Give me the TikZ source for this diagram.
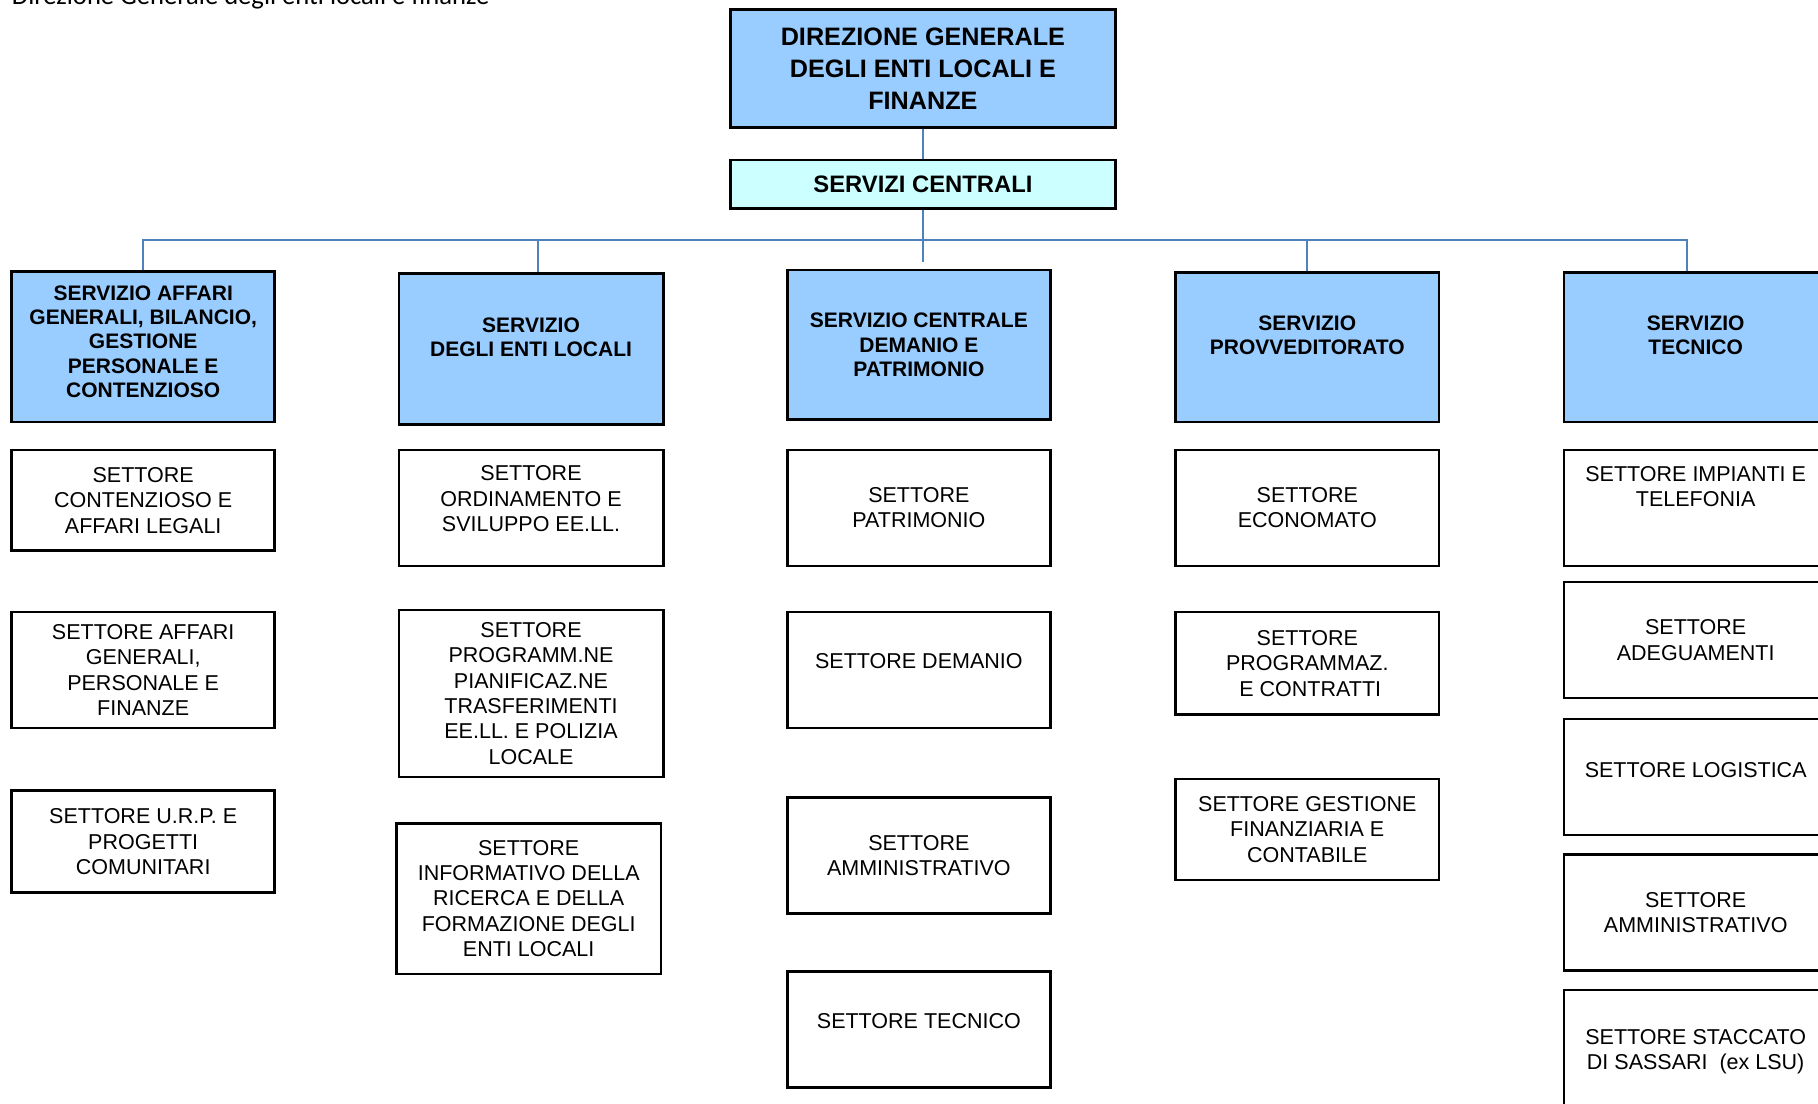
\documentclass[tikz,border=0pt]{standalone}
\usepackage{fontspec}
\setmainfont{Liberation Sans}
\newfontfamily\calibri{Carlito}
\usepackage{tikz}

\definecolor{linkblue}{HTML}{4F81BD}
\definecolor{servfill}{HTML}{99CCFF}
\definecolor{centfill}{HTML}{CCFFFF}

\tikzset{
  boxsize/.style 2 args={minimum width=#1*0.5797pt, minimum height=#2*0.5797pt},
  box/.style={draw=black, line width=1.3pt, align=center, inner sep=2pt},
  direzione/.style={box, fill=servfill, font=\fontsize{12.6}{16}\selectfont\bfseries},
  centrali/.style={box, fill=centfill, font=\fontsize{11.9}{14}\selectfont\bfseries},
  servizio/.style={box, fill=servfill, font=\fontsize{10.5}{12.1}\selectfont\bfseries},
  settore/.style={box, fill=white, font=\fontsize{10.75}{12.7}\selectfont},
  link/.style={draw=linkblue, line width=1.2pt}
}

\begin{document}
\begin{tikzpicture}[x=0.5797pt, y=-0.5797pt]
      \useasboundingbox (0,0) rectangle (1568,952);
      \clip (0,0) rectangle (1568,952);
      \node [anchor=base west, inner sep=0pt, font=\calibri\fontsize{13.3}{16}\selectfont] (title) at (10,4) {Direzione Generale degli enti locali e finanze};

      \node [direzione, boxsize={332}{102}] (0 0) at (796,59) {DIREZIONE GENERALE\\DEGLI ENTI LOCALI E\\FINANZE};
      \node [centrali, boxsize={332}{42}] (0 1) at (796,159) {SERVIZI CENTRALI};

      \node [servizio, boxsize={227}{130}] (1 0) at (123.5,299) {SERVIZIO AFFARI\\GENERALI, BILANCIO,\\GESTIONE\\PERSONALE E\\CONTENZIOSO\\[-6.9pt]\mbox{}};
      \node [servizio, boxsize={228}{130}] (2 0) at (458,301) {SERVIZIO\\DEGLI ENTI LOCALI\\\mbox{}};
      \node [servizio, boxsize={227}{129}] (3 0) at (792.5,297.5) {SERVIZIO CENTRALE\\DEMANIO E\\PATRIMONIO};
      \node [servizio, boxsize={227}{129}] (4 0) at (1127.5,299.5) {SERVIZIO\\PROVVEDITORATO\\\mbox{}};
      \node [servizio, boxsize={227}{129}] (5 0) at (1462.5,299.5) {SERVIZIO\\TECNICO\\\mbox{}};

      \node [settore, boxsize={227}{87}] (1 1) at (123.5,431.5) {SETTORE\\CONTENZIOSO E\\AFFARI LEGALI};
      \node [settore, boxsize={227}{100}] (1 2) at (123.5,578) {SETTORE AFFARI\\GENERALI,\\PERSONALE E\\FINANZE};
      \node [settore, boxsize={227}{88}] (1 3) at (123.5,726) {SETTORE U.R.P. E\\PROGETTI\\COMUNITARI};

      \node [settore, boxsize={228}{100}] (2 1) at (458,438) {SETTORE\\ORDINAMENTO E\\SVILUPPO EE.LL.\\[-3.4pt]\mbox{}};
      \node [settore, boxsize={228}{144}] (2 2) at (458,598) {SETTORE\\PROGRAMM.NE\\PIANIFICAZ.NE\\TRASFERIMENTI\\EE.LL. E POLIZIA\\LOCALE};
      \node [settore, boxsize={228}{130}] (2 3) at (456,775) {SETTORE\\INFORMATIVO DELLA\\RICERCA E DELLA\\FORMAZIONE DEGLI\\ENTI LOCALI};

      \node [settore, boxsize={227}{100}] (3 1) at (792.5,438) {SETTORE\\PATRIMONIO};
      \node [settore, boxsize={227}{100}, text depth=8.7pt] (3 2) at (792.5,578) {SETTORE DEMANIO};
      \node [settore, boxsize={227}{100}] (3 3) at (792.5,738) {SETTORE\\AMMINISTRATIVO};
      \node [settore, boxsize={227}{100}, text depth=8.7pt] (3 4) at (792.5,888) {SETTORE TECNICO};

      \node [settore, boxsize={227}{100}] (4 1) at (1127.5,438) {SETTORE\\ECONOMATO};
      \node [settore, boxsize={227}{88}] (4 2) at (1127.5,572) {SETTORE\\PROGRAMMAZ.\\\ E CONTRATTI};
      \node [settore, boxsize={227}{87}] (4 3) at (1127.5,715.5) {SETTORE GESTIONE\\FINANZIARIA E\\CONTABILE};

      \node [settore, boxsize={227}{100}] (5 1) at (1462.5,438) {SETTORE IMPIANTI E\\TELEFONIA\\[8.6pt]\mbox{}};
      \node [settore, boxsize={227}{100}] (5 2) at (1462.5,552) {SETTORE\\ADEGUAMENTI};
      \node [settore, boxsize={227}{100}, text depth=7pt] (5 3) at (1462.5,670) {SETTORE LOGISTICA};
      \node [settore, boxsize={227}{100}] (5 4) at (1462.5,787) {SETTORE\\AMMINISTRATIVO};
      \node [settore, boxsize={227}{106}] (5 5) at (1462.5,907) {SETTORE STACCATO\\DI SASSARI\ \ (ex LSU)};

      \coordinate (bus) at (796,207);
      \coordinate (hub) at (796,226);
      \coordinate (drop2) at ([xshift=3.5pt]2 0.north);
      \coordinate (drop5) at ([xshift=-4.3pt]5 0.north);
      \draw [link] (0 0) -- (0 1);
      \draw [link] (0 1) -- (hub);
      \draw [link] (1 0.north) |- (bus) -| (drop5);
      \draw [link] (drop2) -- (drop2 |- bus);
      \draw [link] (4 0.north) -- (4 0.north |- bus);
    \end{tikzpicture}
\end{document}
